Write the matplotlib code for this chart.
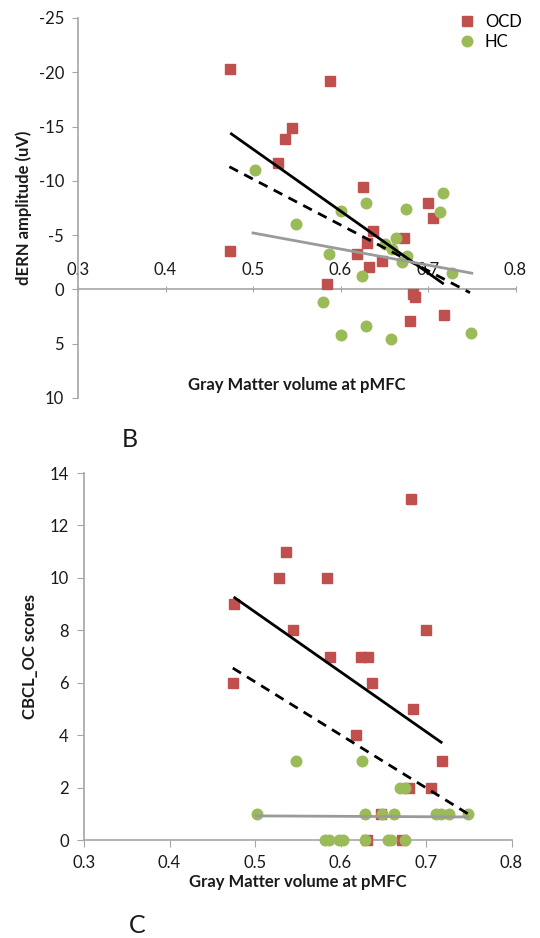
import numpy as np
import matplotlib.pyplot as plt
from matplotlib.lines import Line2D

plt.rcParams['font.family'] = ['Lato', 'DejaVu Sans']
plt.rcParams['axes.unicode_minus'] = False

# --- panel B: dERN amplitude vs gray matter volume ---
ocd_gmv_b = [0.474, 0.588, 0.545, 0.536, 0.529, 0.626, 0.700, 0.706, 0.637, 0.673,
             0.630, 0.474, 0.619, 0.647, 0.632, 0.585, 0.683, 0.685, 0.679, 0.718]
ocd_dern = [-20.3, -19.2, -14.9, -13.9, -11.6, -9.4, -8.0, -6.6, -5.4, -4.7,
            -4.3, -3.5, -3.3, -2.6, -2.1, -0.5, 0.4, 0.7, 2.9, 2.4]
hc_gmv_b = [0.502, 0.549, 0.600, 0.629, 0.717, 0.675, 0.714, 0.663, 0.651, 0.659,
            0.676, 0.670, 0.587, 0.727, 0.625, 0.580, 0.601, 0.629, 0.658, 0.749]
hc_dern = [-11.0, -6.0, -7.2, -8.0, -8.9, -7.4, -7.1, -4.7, -4.2, -3.7,
           -3.1, -2.5, -3.3, -1.5, -1.2, 1.2, 4.2, 3.4, 4.6, 4.0]

# trendlines (start, end)
ocd_fit_b = ([0.474, 0.718], [-14.4, -0.5])
all_fit_b = ([0.473, 0.748], [-11.3, 0.3])
hc_fit_b = ([0.500, 0.750], [-5.2, -1.5])

# --- panel C: CBCL_OC scores vs gray matter volume ---
ocd_gmv_c = [0.682, 0.536, 0.528, 0.584, 0.475, 0.544, 0.700, 0.588, 0.624, 0.632,
             0.474, 0.637, 0.685, 0.618, 0.719, 0.680, 0.706, 0.647, 0.631, 0.672]
ocd_cbcl = [13, 11, 10, 10, 9, 8, 8, 7, 7, 7, 6, 6, 5, 4, 3, 2, 2, 1, 0, 0]
hc_gmv_c = [0.548, 0.625, 0.670, 0.675, 0.502, 0.629, 0.648, 0.663, 0.712, 0.717,
            0.727, 0.749, 0.582, 0.587, 0.598, 0.603, 0.629, 0.655, 0.659, 0.675]
hc_cbcl = [3, 3, 2, 2, 1, 1, 1, 1, 1, 1, 1, 1, 0, 0, 0, 0, 0, 0, 0, 0]

ocd_fit_c = ([0.475, 0.719], [9.27, 3.7])
all_fit_c = ([0.474, 0.749], [6.56, 1.0])
hc_fit_c = ([0.502, 0.749], [0.92, 0.88])

xticks = [0.3, 0.4, 0.5, 0.6, 0.7, 0.8]
xticklabels = ['0.3', '0.4', '0.5', '0.6', '0.7', '0.8']

red = '#C0504D'
green = '#9BBB59'
axcol = '#A6A6A6'
txtcol = '#1a1a1a'
W, H = 540, 938

fig = plt.figure(figsize=(W / 100, H / 100), dpi=100)

def frac(x0, x1, y0, y1):
    # pixel box -> figure fraction
    return [x0 / W, 1 - y1 / H, (x1 - x0) / W, (y1 - y0) / H]

def draw_points(ax, xo, yo, xh, yh):
    ax.plot(xo, yo, 's', color=red, ms=7.6, mec=red, zorder=3, clip_on=False)
    ax.plot(xh, yh, 'o', color=green, ms=7.6, mec=green, zorder=4, clip_on=False)

def draw_fits(ax, ocd_fit, all_fit, hc_fit):
    ax.plot(*ocd_fit, color='black', lw=2, zorder=5, solid_capstyle='butt')
    ax.plot(*all_fit, color='black', lw=2, ls=(0, (3.5, 2.5)), zorder=5)
    ax.plot(*hc_fit, color='#9a9a9a', lw=2, zorder=5)

# ---------------- panel B ----------------
ax1 = fig.add_axes(frac(78, 515.5, 18, 398))
draw_points(ax1, ocd_gmv_b, ocd_dern, hc_gmv_b, hc_dern)
draw_fits(ax1, ocd_fit_b, all_fit_b, hc_fit_b)
ax1.set_xlim(0.3, 0.8)
ax1.set_ylim(10, -25)
ax1.set_xticks(xticks)
ax1.set_xticklabels(xticklabels)
ax1.set_yticks(range(-25, 11, 5))
ax1.spines['right'].set_visible(False)
ax1.spines['bottom'].set_visible(False)
ax1.spines['top'].set_position(('data', 0))
ax1.xaxis.tick_top()
for s in ('left', 'top'):
    ax1.spines[s].set_color(axcol)
    ax1.spines[s].set_linewidth(1.2)
ax1.tick_params(axis='x', direction='inout', length=5, color=axcol,
                labelsize=12, labelcolor=txtcol, pad=6)
ax1.tick_params(axis='y', direction='out', length=4, color=axcol,
                labelsize=12, labelcolor=txtcol, pad=6)
ax1.set_ylabel('dERN amplitude (uV)', fontsize=12, fontweight='bold',
               color=txtcol, labelpad=5)
ax1.text(0.55, 8.8, 'Gray Matter volume at pMFC', ha='center', va='center',
         fontsize=12, fontweight='bold', color=txtcol)
fig.text(130 / W, 1 - 447 / H, 'B', fontsize=18, ha='center', va='baseline',
         color=txtcol)

handles = [Line2D([], [], marker='s', ls='', color=red, ms=7.6),
           Line2D([], [], marker='o', ls='', color=green, ms=7.6)]
fig.legend(handles, ['OCD', 'HC'], loc='upper left',
           bbox_to_anchor=(450 / W, 1 - 7 / H), frameon=False, fontsize=12,
           handletextpad=0.5, labelspacing=0.25, handlelength=1.2,
           borderaxespad=0)

# ---------------- panel C ----------------
ax2 = fig.add_axes(frac(84, 511.5, 473, 840))
draw_points(ax2, ocd_gmv_c, ocd_cbcl, hc_gmv_c, hc_cbcl)
draw_fits(ax2, ocd_fit_c, all_fit_c, hc_fit_c)
ax2.set_xlim(0.3, 0.8)
ax2.set_ylim(0, 14)
ax2.set_xticks(xticks)
ax2.set_xticklabels(xticklabels)
ax2.set_yticks(range(0, 15, 2))
ax2.spines['right'].set_visible(False)
ax2.spines['top'].set_visible(False)
for s in ('left', 'bottom'):
    ax2.spines[s].set_color(axcol)
    ax2.spines[s].set_linewidth(1.2)
ax2.tick_params(direction='out', length=5, color=axcol, labelsize=12,
                labelcolor=txtcol, pad=6)
ax2.set_ylabel('CBCL_OC scores', fontsize=12, fontweight='bold',
               color=txtcol, labelpad=8)
ax2.set_xlabel('Gray Matter volume at pMFC', fontsize=12, fontweight='bold',
               color=txtcol, labelpad=2)
fig.text(137 / W, 1 - 933 / H, 'C', fontsize=18, ha='center', va='baseline',
         color=txtcol)

fig.savefig('out.png', dpi=100)
